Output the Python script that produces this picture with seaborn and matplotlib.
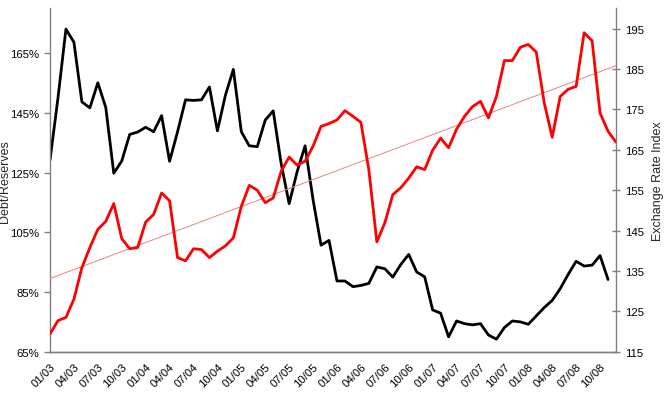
import pandas as pd
import numpy as np
import matplotlib
matplotlib.use('Agg')
import matplotlib.pyplot as plt
import seaborn as sns

# monthly categories 01/03 .. 12/08
months = pd.date_range('2003-01-01', periods=72, freq='MS').strftime('%m/%y').tolist()

debt_reserves = [
    129.2, 150.0, 173.1, 168.7, 148.7, 146.7, 155.1, 146.8, 124.8, 128.9,
    137.8, 138.6, 140.2, 138.7, 144.1, 128.8, 138.7, 149.4, 149.2, 149.4,
    153.7, 139.0, 150.9, 159.6, 138.7, 134.0, 133.7, 142.6, 145.7, 128.0,
    114.6, 125.3, 134.0, 115.9, 100.7, 102.3, 88.7, 88.7, 86.8, 87.2,
    87.9, 93.4, 92.8, 90.0, 94.2, 97.6, 91.7, 90.1, 79.0, 77.9,
    70.0, 75.3, 74.4, 74.0, 74.4, 70.6, 69.2, 73.1, 75.3, 75.0,
    74.2, 77.0, 79.8, 82.2, 86.1, 90.9, 95.3, 93.7, 94.0, 97.2,
    89.2, np.nan,
]

exchange_rate = [
    119.4, 122.7, 123.5, 128.0, 135.8, 140.8, 145.3, 147.3, 151.7, 143.0,
    140.5, 140.8, 147.1, 149.0, 154.3, 152.4, 138.3, 137.5, 140.5, 140.3,
    138.3, 139.9, 141.2, 143.2, 151.0, 156.2, 155.0, 151.9, 153.1, 159.7,
    163.2, 161.2, 162.2, 165.9, 170.8, 171.5, 172.4, 174.7, 173.3, 171.8,
    160.0, 142.2, 146.9, 153.9, 155.6, 158.0, 160.8, 160.1, 164.9, 167.9,
    165.5, 170.1, 173.3, 175.7, 177.0, 172.9, 178.2, 187.1, 187.1, 190.4,
    191.1, 189.2, 176.6, 168.1, 178.2, 180.0, 180.7, 194.0, 192.0, 174.1,
    169.6, 166.9,
]

df = pd.DataFrame({'idx': range(len(months)), 'month': months,
                   'debt': debt_reserves, 'fx': exchange_rate})

sns.set_style("white")
plt.rcParams['font.family'] = ['Liberation Sans', 'DejaVu Sans']

fig = plt.figure(figsize=(6.64, 4.02), dpi=100)
ax = fig.add_axes([0.0753, 0.1226, 0.8524, 0.8538])
ax2 = ax.twinx()

sns.lineplot(data=df, x='idx', y='debt', ax=ax, color='black', linewidth=2)
sns.regplot(data=df, x='idx', y='fx', ax=ax2, scatter=False, ci=None, truncate=True,
            line_kws={'color': '#f08080', 'linewidth': 0.7})
sns.lineplot(data=df, x='idx', y='fx', ax=ax2, color='#ff0000', linewidth=2)

gray = '#808080'
ax.set_xlim(0, len(months) - 1)
ax.set_ylim(65, 180)
ax2.set_ylim(115, 200)

ax.set_yticks(range(65, 166, 20))
ax.set_yticklabels([f'{v}%' for v in range(65, 166, 20)])
ax2.set_yticks(range(115, 196, 10))
ax.set_xticks(range(0, len(months), 3))
ax.set_xticklabels(months[::3], rotation=45, ha='right', rotation_mode='anchor')

ax.set_xlabel('')
ax.set_ylabel('Debt/Reserves', fontsize=9)
ax.yaxis.set_label_coords(-0.069, 0.5)
ax2.set_xlabel('')
ax2.set_ylabel('Exchange Rate Index', fontsize=9, rotation=90)
ax2.yaxis.set_label_coords(1.064, 0.5)

for a in (ax, ax2):
    a.spines['top'].set_visible(False)
    for s in ('left', 'right', 'bottom'):
        a.spines[s].set_color(gray)
        a.spines[s].set_linewidth(1)
    a.tick_params(axis='both', colors=gray, labelcolor='black', labelsize=8.2,
                  length=4, width=1, direction='out')
ax2.tick_params(axis='y', direction='inout', length=6)
ax2.spines['left'].set_visible(False)
ax.spines['right'].set_visible(False)
ax.tick_params(axis='x', pad=3)

fig.savefig('out.png', dpi=100)
plt.close(fig)
